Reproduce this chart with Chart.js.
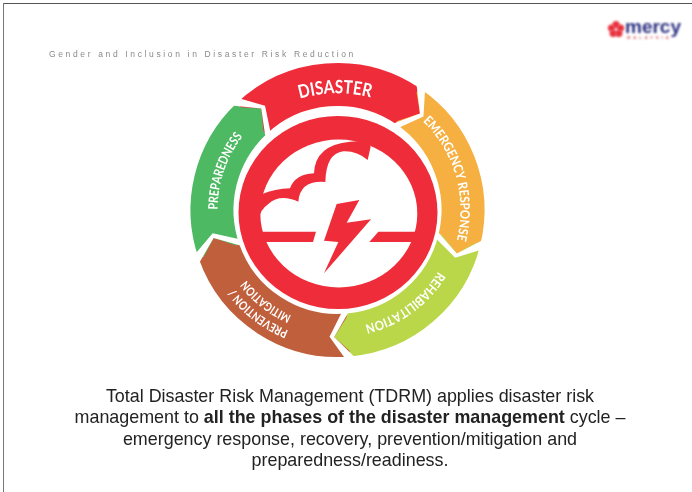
<!DOCTYPE html>
<html><head><meta charset="utf-8">
<script src="https://cdn.jsdelivr.net/npm/chart.js@4"></script>
<style>
html,body{margin:0;padding:0;background:#fff;width:692px;height:492px;overflow:hidden}
#c{position:absolute;left:0;top:0}
#t{position:absolute;left:49px;top:49px;font:8.5px "Liberation Sans",sans-serif;letter-spacing:2.64px;color:#8a8a8a;white-space:nowrap}
#p{position:absolute;left:0;width:700px;top:386px;text-align:center;font:17.9px/21.3px "Liberation Sans",sans-serif;color:#222}
</style></head><body>
<canvas id="c" width="692" height="492"></canvas>
<div id="t">Gender and Inclusion in Disaster Risk Reduction</div>
<div id="p">Total Disaster Risk Management (TDRM) applies disaster risk<br>management to <b>all the phases of the disaster management</b> cycle –<br>emergency response, recovery, prevention/mitigation and<br>preparedness/readiness.</div>
<script>
const phases=["DISASTER","EMERGENCY RESPONSE","REHABILITATION","PREVENTION / MITIGATION","PREPAREDNESS"];
const sweepDegrees=[77.4,69.5,71.5,75.8,65.8];
const phaseColors=["#EF2C39","#F6B041","#BAD749","#C05F3C","#4DB962"];
const RED="#EF2C39";
const rad=d=>d*Math.PI/180;
function pol(x,y,r,deg){return [x+r*Math.sin(rad(deg)),y-r*Math.cos(rad(deg))];}
function poly(ctx,pts,fill){ctx.beginPath();pts.forEach((p,i)=>i?ctx.lineTo(p[0],p[1]):ctx.moveTo(p[0],p[1]));ctx.closePath();ctx.fillStyle=fill;ctx.fill();}
function curved(ctx,text,cx,cy,mid,r,font,hs){
  ctx.save();ctx.font=font;ctx.fillStyle="#fff";ctx.textAlign="center";ctx.textBaseline="alphabetic";
  const ws=[...text].map(ch=>ctx.measureText(ch).width*hs);
  const tot=ws.reduce((a,b)=>a+b,0);let run=-tot/2;
  [...text].forEach((ch,i)=>{const a=mid+(run+ws[i]/2)/r*180/Math.PI;const p=pol(cx,cy,r,a);
    ctx.save();ctx.translate(p[0],p[1]);ctx.rotate(rad(a));ctx.scale(hs,1);ctx.fillText(ch,0,0);ctx.restore();run+=ws[i];});
  ctx.restore();
}
const diagram={id:"diagram",
 afterDatasetsDraw(chart){
  const ctx=chart.ctx,arcs=chart.getDatasetMeta(0).data;
  ctx.save();
  ctx.fillStyle="#555";ctx.fillRect(3,3,689,1);ctx.fillStyle="#777";ctx.fillRect(3,3,1,489);
  arcs.forEach((arc,i)=>{
    const b=arc.endAngle*180/Math.PI+90,x=arc.x,y=arc.y,Ro=arc.outerRadius,Ri=arc.innerRadius,rM=127;
    poly(ctx,[pol(x,y,Ro,b-2),pol(x,y,rM,b+6.5),pol(x,y,Ri,b-1.5)],phaseColors[i]);
    poly(ctx,[pol(x,y,Ro+2,b-2),pol(x,y,rM,b+6.5),pol(x,y,Ri-2,b-1.5),pol(x,y,Ri-2,b+2.5),pol(x,y,rM,b+8.6),pol(x,y,Ro+2,b+2)],"#fff");
  });
  const cx=arcs[0].x,cy=arcs[0].y;
  const mx=338,my=212.5;
  ctx.fillStyle=RED;ctx.beginPath();ctx.ellipse(mx,my,99.5,96.5,0,0,7);ctx.fill();
  ctx.fillStyle="#fff";ctx.beginPath();ctx.ellipse(mx+0.8,my+1,78.5,74,0,0,7);ctx.fill();
  const X=a=>240+a/3,Y=b=>130+b/3;
  const L=(a,b)=>ctx.lineTo(X(a),Y(b));
  const Q=(a,b,c,d)=>ctx.quadraticCurveTo(X(a),Y(b),X(c),Y(d));
  ctx.fillStyle=RED;ctx.beginPath();ctx.moveTo(X(20),Y(205));
  L(65,193);Q(105,176,150,175);Q(165,133,222,130);Q(225,45,330,35);Q(370,30,388,42);L(392,50);L(383,90);
  Q(350,62,310,64);Q(258,70,256,156);Q(180,150,175,215);Q(120,190,85,222);Q(60,240,58,265);L(65,303);L(20,303);
  ctx.closePath();ctx.fill();
  const zs=l=>l.map(p=>[X(p[0]),Y(p[1])]);
  poly(ctx,zs([[20,305],[228,305],[219,336],[20,336]]),RED);
  poly(ctx,zs([[415,305],[570,305],[570,336],[388,336]]),RED);
  poly(ctx,zs([[290,222],[358,210],[320,278],[393,268],[252,430],[295,336],[252,332]]),RED);
  const big='bold 18.5px Lato,sans-serif',small='bold 13px Lato,sans-serif',tiny='bold 12px Lato,sans-serif';
  curved(ctx,"DISASTER",cx,cy+18,-1,134.7,big,0.83);
  curved(ctx,"EMERGENCY RESPONSE",cx,cy,74,123,small,0.87);
  curved(ctx,"REHABILITATION",cx,cy,144,118,small,0.87);
  curved(ctx,"PREVENTION /",cx,cy,217.5,130,tiny,0.82);
  curved(ctx,"MITIGATION",cx,cy,218,115,tiny,0.8);
  curved(ctx,"PREPAREDNESS",cx,cy,289,120,small,0.8);
  ctx.save();ctx.filter="blur(0.8px)";
  ctx.fillStyle="#e8343f";
  for(let k=0;k<5;k++){const q=pol(616,29.5,4.8,k*72);ctx.beginPath();ctx.arc(q[0],q[1],3.6,0,7);ctx.fill();}
  ctx.fillStyle="#2b2f80";ctx.font='bold 19px "Liberation Sans",sans-serif';ctx.textBaseline="alphabetic";ctx.textAlign="left";
  ctx.fillText("mercy",625,33);
  ctx.fillStyle="#e0505a";ctx.font='bold 4px "Liberation Sans",sans-serif';ctx.letterSpacing="3px";ctx.fillText("MALAYSIA",627,38.5);
  ctx.restore();
  ctx.restore();
 }};
new Chart(document.getElementById("c"),{type:"doughnut",
 data:{labels:phases,datasets:[{data:sweepDegrees,backgroundColor:phaseColors,borderWidth:0,hoverOffset:0}]},
 options:{responsive:false,animation:false,rotation:-43.4,cutout:104,
  layout:{padding:{left:190.5,right:207.5,top:63,bottom:135}},
  plugins:{legend:{display:false},tooltip:{enabled:false}}},
 plugins:[diagram]});
</script></body></html>
